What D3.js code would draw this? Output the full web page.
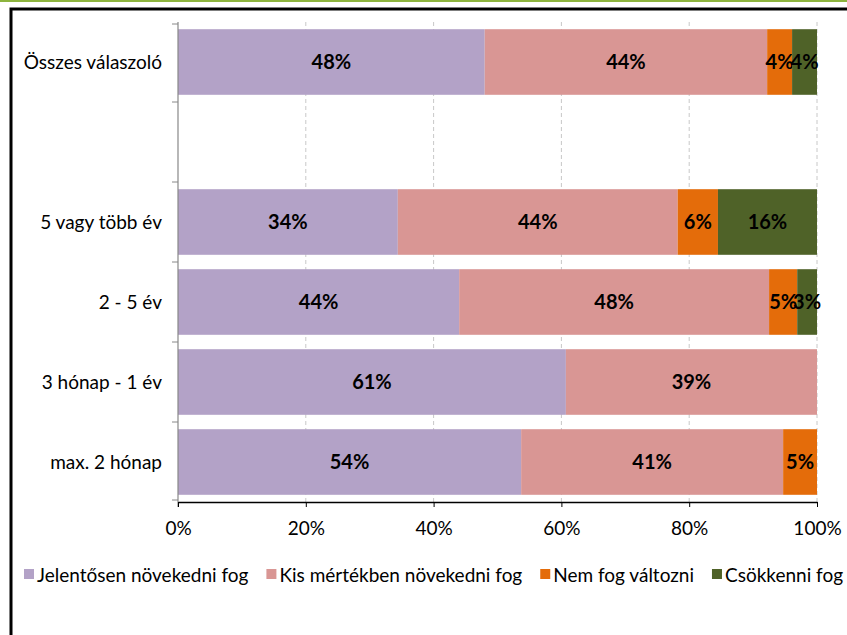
<!DOCTYPE html>
<html><head><meta charset="utf-8">
<script src="https://cdn.jsdelivr.net/npm/d3@7"></script>
<style>body{margin:0;background:#fff;} svg{display:block;}</style>
</head><body>
<script>
const categories = ["Összes válaszoló", "", "5 vagy több év", "2 - 5 év", "3 hónap - 1 év", "max. 2 hónap"];
const seriesNames = ["Jelentősen növekedni fog", "Kis mértékben növekedni fog", "Nem fog változni", "Csökkenni fog"];
const jelentosen = [48.0, null, 34.4, 44.0, 60.7, 53.7];
const kis = [44.2, null, 43.8, 48.5, 39.3, 41.0];
const nem = [3.9, null, 6.3, 4.4, 0, 5.3];
const csokken = [3.9, null, 15.5, 3.1, 0, 0];
const labels = [
  ["48%", "44%", "4%", "4%"], null, ["34%", "44%", "6%", "16%"], ["44%", "48%", "5%", "3%"], ["61%", "39%", "", ""], ["54%", "41%", "5%", ""]
];
const xTicks = [0, 20, 40, 60, 80, 100];
const colors = ["#B3A2C7", "#D99694", "#E46C0A", "#4F6228"];

const W = 847, H = 635;
const svg = d3.select("body").append("svg").attr("width", W).attr("height", H);
const font = "Lato, 'Open Sans', sans-serif";
const fs = 19;

// frame
svg.append("rect").attr("x", 0).attr("y", 0).attr("width", W).attr("height", 2).attr("fill", "#8DB43E");
svg.append("path").attr("d", `M11,${H} L11,9 L${W},9`).attr("fill", "none").attr("stroke", "#000").attr("stroke-width", 3);

const x0 = 178, x1 = 817, yTop = 22, yBot = 502;
const x = d3.scaleLinear().domain([0, 100]).range([x0, x1]);
const y = d3.scaleBand().domain(categories.map((c, i) => i)).range([yTop, yBot]).paddingInner(0.18).paddingOuter(0.09);

// gridlines
svg.append("g").selectAll("line").data(xTicks.slice(1)).join("line")
  .attr("x1", d => x(d)).attr("x2", d => x(d)).attr("y1", yTop).attr("y2", yBot)
  .attr("stroke", "#c8c8c8").attr("stroke-dasharray", "4,3").attr("stroke-width", 1);

// bars
const series = [jelentosen, kis, nem, csokken];
categories.forEach((c, i) => {
  if (jelentosen[i] === null) return;
  let cum = 0;
  series.forEach((s, k) => {
    const v = s[i];
    if (v > 0) {
      svg.append("rect").attr("x", x(cum)).attr("y", y(i)).attr("width", x(cum + v) - x(cum)).attr("height", y.bandwidth()).attr("fill", colors[k]);
      const lab = labels[i][k];
      if (lab) {
        svg.append("text").attr("x", (x(cum) + x(cum + v)) / 2).attr("y", y(i) + y.bandwidth() / 2 + 7)
          .attr("text-anchor", "middle").attr("font-family", font).attr("font-weight", "bold").attr("font-size", 20).attr("fill", "#000").text(lab);
      }
    }
    cum += v;
  });
});

// y axis
const yAxis = svg.append("g");
yAxis.append("line").attr("x1", x0).attr("x2", x0).attr("y1", yTop).attr("y2", yBot + 5).attr("stroke", "#888").attr("stroke-width", 1.2);
const bounds = categories.map((c, i) => i === 0 ? yTop + 2 : (y(i - 1) + y.bandwidth() + y(i)) / 2);
bounds.push(yBot - 2);
yAxis.selectAll("line.t").data(bounds).join("line").attr("class", "t")
  .attr("x1", x0 - 6).attr("x2", x0).attr("y1", d => d).attr("y2", d => d).attr("stroke", "#888");
yAxis.selectAll("text").data(categories).join("text")
  .attr("x", 162).attr("y", (d, i) => y(i) + y.bandwidth() / 2 + 7).attr("text-anchor", "end")
  .attr("font-family", font).attr("font-size", fs).attr("fill", "#000").text(d => d);

// x axis
const xAxis = svg.append("g").attr("transform", `translate(0,${yBot})`)
  .call(d3.axisBottom(x).tickValues(xTicks).tickFormat(d => d + "%").tickSize(5).tickSizeOuter(0));
xAxis.select(".domain").attr("stroke", "#000").attr("stroke-width", 1.5);
xAxis.selectAll(".tick line").attr("stroke", "#000");
xAxis.selectAll("text").attr("font-family", font).attr("font-size", fs).attr("fill", "#000").attr("y", 20).attr("dy", "0.71em");

// legend
const legend = svg.append("g");
let lx = 24;
seriesNames.forEach((n, k) => {
  legend.append("rect").attr("x", lx).attr("y", 569).attr("width", 10).attr("height", 10).attr("fill", colors[k]);
  const t = legend.append("text").attr("x", lx + 13).attr("y", 582).attr("font-family", font).attr("font-size", fs).attr("fill", "#000").text(n);
  lx += 13 + t.node().getComputedTextLength() + 18;
});
</script>
</body></html>
